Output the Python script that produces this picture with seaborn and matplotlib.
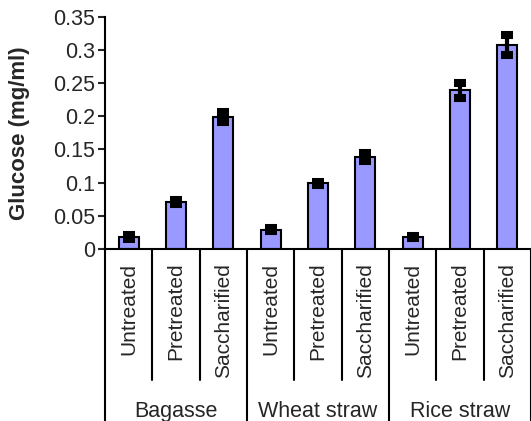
import pandas as pd
import numpy as np
import seaborn as sns
import matplotlib.pyplot as plt
import matplotlib.transforms as mtransforms

# values
groups = ['Bagasse', 'Wheat straw', 'Rice straw']
treatments = ['Untreated', 'Pretreated', 'Saccharified']
glucose = [0.018, 0.070, 0.199, 0.029, 0.099, 0.139, 0.018, 0.239, 0.308]
errors = [0.003, 0.003, 0.008, 0.002, 0.002, 0.006, 0.002, 0.011, 0.015]
ytick_vals = [0, 0.05, 0.1, 0.15, 0.2, 0.25, 0.3, 0.35]
ytick_labels = ['0', '0.05', '0.1', '0.15', '0.2', '0.25', '0.3', '0.35']

df = pd.DataFrame({
    'group': np.repeat(groups, len(treatments)),
    'treatment': treatments * len(groups),
    'glucose': glucose,
})
df['slot'] = df['group'] + ' / ' + df['treatment']

sns.set_style('white')
plt.rcParams['font.family'] = ['Liberation Sans', 'DejaVu Sans']

fig = plt.figure(figsize=(5.31, 4.21), dpi=100)
ax = fig.add_axes([0.198, 0.409, 0.802, 0.551])

sns.barplot(data=df, x='slot', y='glucose', order=list(df['slot']),
            color='#9999ff', saturation=1, edgecolor='black', linewidth=1.5,
            width=0.42, errorbar=None, ax=ax)

# thick excel-style error bars
xpos = np.arange(len(df))
ax.errorbar(xpos, df['glucose'], yerr=errors, fmt='none', ecolor='black',
            elinewidth=3, capsize=4.3, capthick=5.8, zorder=5)

ax.set_xlim(-0.5, len(df) - 0.5)
ax.set_ylim(0, 0.35)
ax.set_yticks(ytick_vals)
ax.set_yticklabels(ytick_labels, fontsize=15.5)
ax.tick_params(axis='y', direction='out', length=5, width=1.5, pad=2, left=True)
ax.set_ylabel('Glucose (mg/ml)', fontsize=16, fontweight='bold', labelpad=17)

ax.set_xticks(xpos)
ax.set_xticklabels(df['treatment'], rotation=90, fontsize=15)
ax.tick_params(axis='x', length=0, pad=10)
ax.set_xlabel('')

sns.despine(ax=ax, top=True, right=True)
for side in ['left', 'bottom']:
    ax.spines[side].set_color('black')
    ax.spines[side].set_linewidth(1.5)

# category dividers under the axis
trans = mtransforms.blended_transform_factory(ax.transData, ax.transAxes)
n_t = len(treatments)
for i in range(len(df) + 1):
    bottom = -0.745 if i % n_t == 0 else -0.565
    ax.plot([i - 0.5, i - 0.5], [0, bottom], transform=trans, color='black',
            lw=1.5, clip_on=False)

for g, name in enumerate(groups):
    ax.text(g * n_t + (n_t - 1) / 2, -0.70, name, transform=trans,
            ha='center', va='center', fontsize=15.5)

fig.savefig('out.png', dpi=100)
